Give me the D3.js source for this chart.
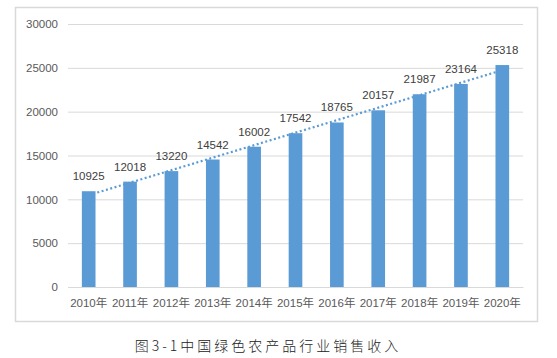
<!DOCTYPE html>
<html>
<head>
<meta charset="utf-8">
<script src="https://cdn.jsdelivr.net/npm/d3@7"></script>
<style>
  body { margin: 0; background: #fff; }
  svg { display: block; }
</style>
</head>
<body>
<svg id="chart"></svg>
<script>
// data
let years = ["2010年", "2011年", "2012年", "2013年", "2014年", "2015年", "2016年", "2017年", "2018年", "2019年", "2020年"]
let sales = [10925, 12018, 13220, 14542, 16002, 17542, 18765, 20157, 21987, 23164, 25318]
let yTicks = [0, 5000, 10000, 15000, 20000, 25000, 30000]
let caption = "图3-1中国绿色农产品行业销售收入"

let width = 557, height = 358
let margins = {top: 24, bottom: 71, left: 68, right: 34}
let plotW = width - margins.left - margins.right
let plotH = height - margins.top - margins.bottom

let svg = d3.select('#chart')
    .attr('width', width)
    .attr('height', height)

// outer chart frame
svg.append('rect')
    .attr('x', 15.5)
    .attr('y', 7.5)
    .attr('width', 522)
    .attr('height', 314)
    .attr('fill', 'none')
    .attr('stroke', '#d9d9d9')
    .attr('stroke-width', 1.5)

let chart = svg.append('g')
    .attr('transform', `translate(${margins.left},${margins.top})`)

let x = d3.scaleBand().domain(years).range([0, plotW]).paddingInner(0.67).paddingOuter(0.335)
let y = d3.scaleLinear().domain([0, 30000]).range([plotH, 0])

// Y GRID + TICKS
let yAxis = chart.append('g')
    .call(d3.axisLeft(y).tickValues(yTicks).tickFormat(d3.format('d')).tickSize(-plotW).tickPadding(10))
yAxis.select('.domain').remove()
yAxis.selectAll('line').attr('stroke', '#d9d9d9')
yAxis.selectAll('text')
    .attr('fill', '#595959')
    .attr('font-family', 'Liberation Sans, Arial, sans-serif')
    .attr('font-size', 11.5)

// X TICKS
let xAxis = chart.append('g')
    .attr('transform', `translate(0,${plotH})`)
    .call(d3.axisBottom(x).tickSize(0).tickPadding(12))
xAxis.select('.domain').attr('stroke', '#d9d9d9')
xAxis.selectAll('text')
    .attr('fill', '#595959')
    .attr('font-family', 'Liberation Sans, "Noto Sans CJK SC", sans-serif')
    .attr('font-size', 11.5)

// TRENDLINE (linear fit, like the spreadsheet one)
let n = sales.length
let mx = (n - 1) / 2
let my = d3.mean(sales)
let slope = d3.sum(sales, (v, i) => (i - mx) * (v - my)) / d3.sum(sales, (v, i) => (i - mx) * (i - mx))
let trend = years.map((yr, i) => ({label: yr, value: my + slope * (i - mx)}))

chart.append('path')
    .datum(trend)
    .attr('fill', 'none')
    .attr('stroke', '#5b9bd5')
    .attr('stroke-width', 2.2)
    .attr('stroke-dasharray', '2,2.5')
    .attr('d', d3.line()
        .x(d => x(d.label) + x.bandwidth() / 2)
        .y(d => y(d.value)))

// BARS
chart.selectAll('.bar')
    .data(sales)
    .enter()
    .append('rect')
    .classed('bar', true)
    .attr('x', (d, i) => x(years[i]))
    .attr('y', d => y(d))
    .attr('width', x.bandwidth())
    .attr('height', d => plotH - y(d))
    .attr('fill', '#5b9bd5')

// VALUE LABELS
chart.selectAll('.val')
    .data(sales)
    .enter()
    .append('text')
    .classed('val', true)
    .attr('x', (d, i) => x(years[i]) + x.bandwidth() / 2)
    .attr('y', d => y(d) - 11)
    .attr('text-anchor', 'middle')
    .attr('fill', '#404040')
    .attr('font-family', 'Liberation Sans, Arial, sans-serif')
    .attr('font-size', 11.5)
    .text(d => d)

// CAPTION
svg.append('text')
    .attr('x', 268)
    .attr('y', 351)
    .attr('text-anchor', 'middle')
    .attr('fill', '#222')
    .attr('font-family', '"Noto Sans CJK SC", sans-serif')
    .attr('font-weight', 300)
    .attr('font-size', 14)
    .attr('letter-spacing', 3)
    .text(caption)
</script>
</body>
</html>
